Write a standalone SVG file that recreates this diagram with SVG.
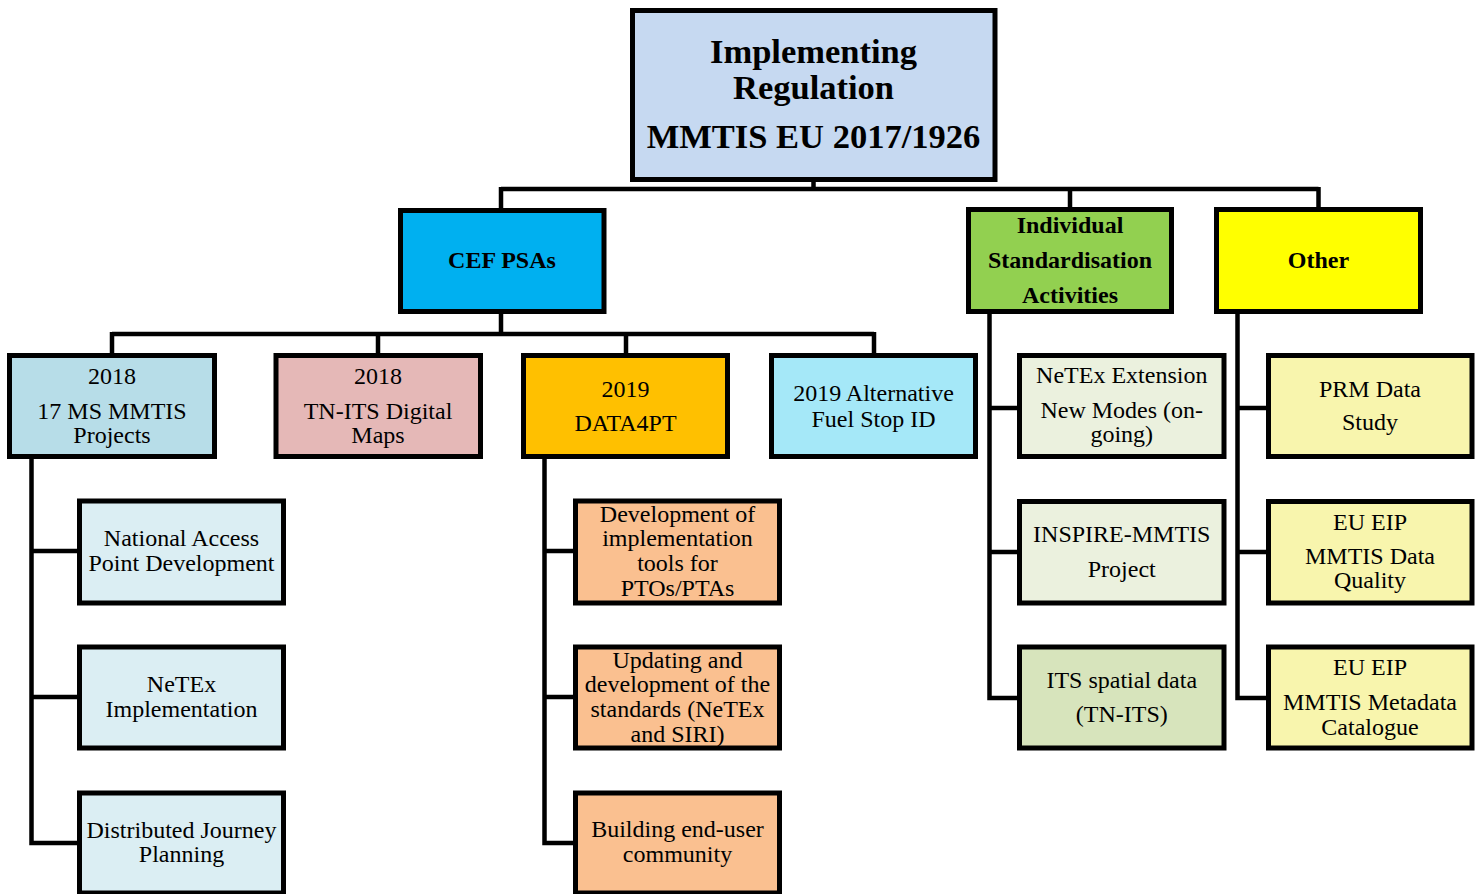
<svg xmlns="http://www.w3.org/2000/svg" width="1481" height="894" viewBox="0 0 1481 894">
<style>
rect{stroke:#000;stroke-width:5}
text{font-family:"Liberation Serif","Times New Roman",serif;font-size:24px;text-anchor:middle;fill:#000}
.b{font-weight:bold}
.t{font-size:34.5px;font-weight:bold}
#connectors path{fill:none;stroke:#000;stroke-width:4.5}
</style>
<rect x="0" y="0" width="1481" height="894" fill="#fff" stroke="none" style="stroke:none"/>
<g id="connectors">
<path d="M813.5 182V189M501 189H1318.5M501 187V209M1070 187V209M1318.5 187V209"/>
<path d="M501 312V334M112 334H874M112 332V355M378 332V355M626 332V355M874 332V355"/>
<path d="M31.5 459V843H79M31.5 551H79M31.5 697H79"/>
<path d="M544.5 459V843H575M544.5 551H575M544.5 697H575"/>
<path d="M989.5 312V698H1019M989.5 408H1019M989.5 552H1019"/>
<path d="M1237.5 312V698H1268M1237.5 408H1268M1237.5 552H1268"/>
</g>
<g id="root"><rect x="632.5" y="10.5" width="362.5" height="169" fill="#c6d9f1"/>
<text class="t" x="813.5" y="63">Implementing</text><text class="t" x="813.5" y="99">Regulation</text><text class="t" x="813.5" y="148">MMTIS EU 2017/1926</text></g>
<g id="cef"><rect x="400.5" y="210.5" width="203.5" height="101" fill="#00b0f0"/><text class="b" x="502" y="268">CEF PSAs</text></g>
<g id="indiv"><rect x="968.5" y="209.5" width="203" height="102" fill="#92d050"/>
<text class="b" x="1070" y="233">Individual</text><text class="b" x="1070" y="268">Standardisation</text><text class="b" x="1070" y="303">Activities</text></g>
<g id="other"><rect x="1216.5" y="209.5" width="204" height="102" fill="#ffff00"/><text class="b" x="1318.5" y="268">Other</text></g>
<g id="ms17"><rect x="9.5" y="355.5" width="205" height="101" fill="#b7dde8"/>
<text x="112" y="384">2018</text><text x="112" y="419">17 MS MMTIS</text><text x="112" y="443">Projects</text></g>
<g id="tnits"><rect x="276" y="355.5" width="204.5" height="101" fill="#e5b8b7"/>
<text x="378" y="384">2018</text><text x="378" y="419">TN-ITS Digital</text><text x="378" y="443">Maps</text></g>
<g id="data4pt"><rect x="523.5" y="355.5" width="204" height="101" fill="#ffc000"/>
<text x="625.5" y="397">2019</text><text x="625.5" y="431">DATA4PT</text></g>
<g id="altfuel"><rect x="771.5" y="355.5" width="204" height="101" fill="#a5e8f8"/>
<text x="873.5" y="401">2019 Alternative</text><text x="873.5" y="427">Fuel Stop ID</text></g>
<g id="nap"><rect x="79.5" y="501" width="204" height="102" fill="#dbeef3"/>
<text x="181.5" y="546">National Access</text><text x="181.5" y="571">Point Development</text></g>
<g id="netex"><rect x="79.5" y="647" width="204" height="101" fill="#dbeef3"/>
<text x="181.5" y="692">NeTEx</text><text x="181.5" y="717">Implementation</text></g>
<g id="djp"><rect x="79.5" y="793" width="204" height="100" fill="#dbeef3"/>
<text x="181.5" y="838">Distributed Journey</text><text x="181.5" y="862">Planning</text></g>
<g id="devtools"><rect x="575.5" y="501" width="204" height="102" fill="#fac090"/>
<text x="677.5" y="522">Development of</text><text x="677.5" y="546">implementation</text><text x="677.5" y="571">tools for</text><text x="677.5" y="596">PTOs/PTAs</text></g>
<g id="updating"><rect x="575.5" y="647" width="204" height="101" fill="#fac090"/>
<text x="677.5" y="668">Updating and</text><text x="677.5" y="692">development of the</text><text x="677.5" y="717">standards (NeTEx</text><text x="677.5" y="742">and SIRI)</text></g>
<g id="building"><rect x="575.5" y="793" width="204" height="100" fill="#fac090"/>
<text x="677.5" y="837">Building end-user</text><text x="677.5" y="862">community</text></g>
<g id="netexext"><rect x="1019.5" y="355.5" width="204.5" height="101" fill="#ebf1de"/>
<text x="1121.75" y="383">NeTEx Extension</text><text x="1121.75" y="418">New Modes (on-</text><text x="1121.75" y="442">going)</text></g>
<g id="inspire"><rect x="1019.5" y="501.5" width="204.5" height="101.5" fill="#ebf1de"/>
<text x="1121.75" y="542">INSPIRE-MMTIS</text><text x="1121.75" y="577">Project</text></g>
<g id="itsspatial"><rect x="1019.5" y="647" width="204.5" height="101" fill="#d7e4bc"/>
<text x="1121.75" y="688">ITS spatial data</text><text x="1121.75" y="722">(TN-ITS)</text></g>
<g id="prm"><rect x="1268.5" y="355.5" width="203.5" height="101" fill="#f8f5ad"/>
<text x="1370" y="397">PRM Data</text><text x="1370" y="430">Study</text></g>
<g id="quality"><rect x="1268.5" y="501.5" width="203.5" height="101.5" fill="#f8f5ad"/>
<text x="1370" y="530">EU EIP</text><text x="1370" y="564">MMTIS Data</text><text x="1370" y="588">Quality</text></g>
<g id="metadata"><rect x="1268.5" y="647" width="203.5" height="101" fill="#f8f5ad"/>
<text x="1370" y="675">EU EIP</text><text x="1370" y="710">MMTIS Metadata</text><text x="1370" y="735">Catalogue</text></g>
</svg>
